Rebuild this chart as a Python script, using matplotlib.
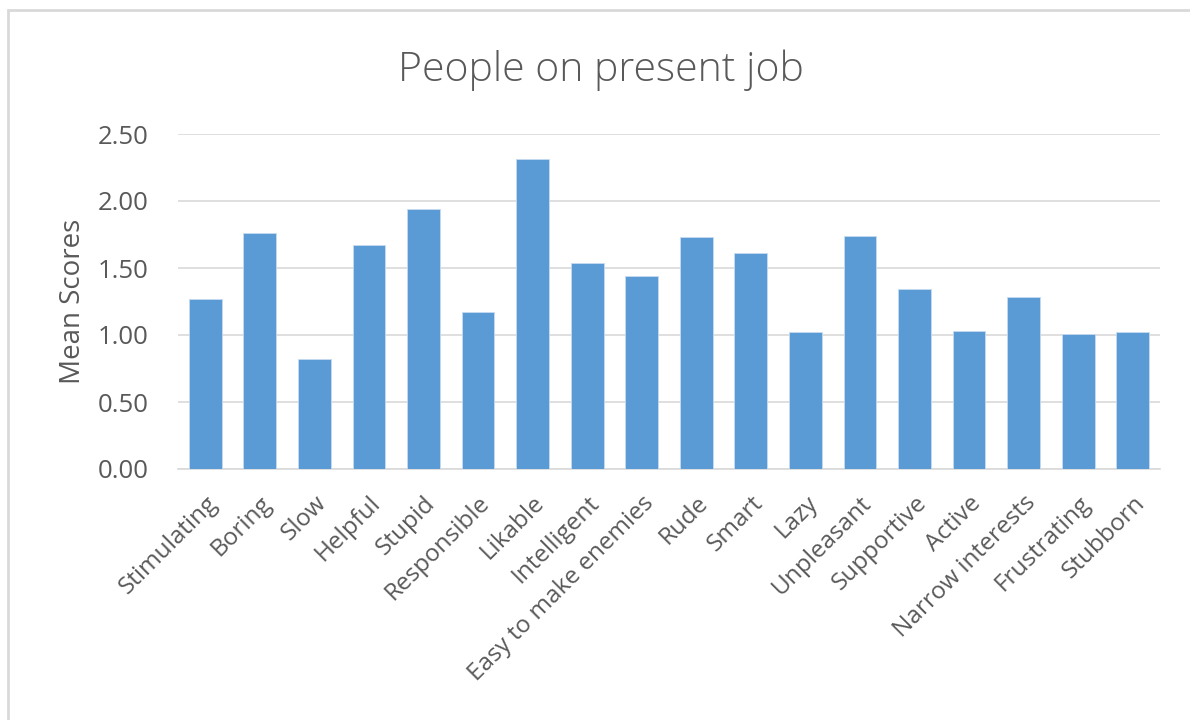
import matplotlib
matplotlib.use("Agg")
import matplotlib.pyplot as plt
from matplotlib.patches import Rectangle

categories = ["Stimulating", "Boring", "Slow", "Helpful", "Stupid", "Responsible",
              "Likable", "Intelligent", "Easy to make enemies", "Rude", "Smart", "Lazy",
              "Unpleasant", "Supportive", "Active", "Narrow interests", "Frustrating",
              "Stubborn"]
mean_scores = [1.27, 1.76, 0.82, 1.67, 1.94, 1.17, 2.31, 1.54, 1.44, 1.73, 1.61, 1.02,
               1.74, 1.34, 1.03, 1.28, 1.01, 1.02]
y_ticks = [0.0, 0.5, 1.0, 1.5, 2.0, 2.5]

text_color = "#595959"
bar_color = "#5b9bd5"
grid_color = "#d9d9d9"
font = "Open Sans"

fig = plt.figure(figsize=(11.9, 7.2), dpi=100)
fig.patch.set_facecolor("white")

# outer chart border
fig.add_artist(Rectangle((8 / 1190, -0.1), 1.2, (720 - 10) / 720 + 0.1,
                         transform=fig.transFigure, fill=False,
                         edgecolor="#d9d9d9", linewidth=2))

ax = fig.add_axes([178 / 1190, 1 - 469 / 720, (1160 - 178) / 1190, (469 - 134) / 720])
x = range(len(categories))
ax.bar(x, mean_scores, width=0.6, color=bar_color, edgecolor="#c6dbef",
       linewidth=0.6, zorder=3)

ax.set_xlim(-0.5, len(categories) - 0.5)
ax.set_ylim(0, 2.5)
ax.set_yticks(y_ticks)
ax.set_yticklabels([f"{v:.2f}" for v in y_ticks], fontsize=18.5, color=text_color,
                   family=font)
ax.set_xticks(list(x))
ax.set_xticklabels(categories, rotation=45, ha="right", rotation_mode="anchor",
                   fontsize=17.5, color=text_color, family=font)
ax.tick_params(axis="both", length=0)
ax.tick_params(axis="y", pad=21)
ax.tick_params(axis="x", pad=16)
ax.grid(axis="y", color=grid_color, linewidth=1.2, zorder=0)
for side in ["top", "right", "left"]:
    ax.spines[side].set_visible(False)
ax.spines["bottom"].set_color(grid_color)
ax.spines["bottom"].set_linewidth(1.2)

ax.set_ylabel("Mean Scores", fontsize=20, color=text_color, family=font)
ax.yaxis.set_label_coords(-91 / 982, 0.5)
fig.text(0.505, 1 - 70 / 720, "People on present job", ha="center", va="center",
         fontsize=29.5, color=text_color, family=font, fontweight="light")

fig.savefig("out.png", dpi=100, facecolor="white")
